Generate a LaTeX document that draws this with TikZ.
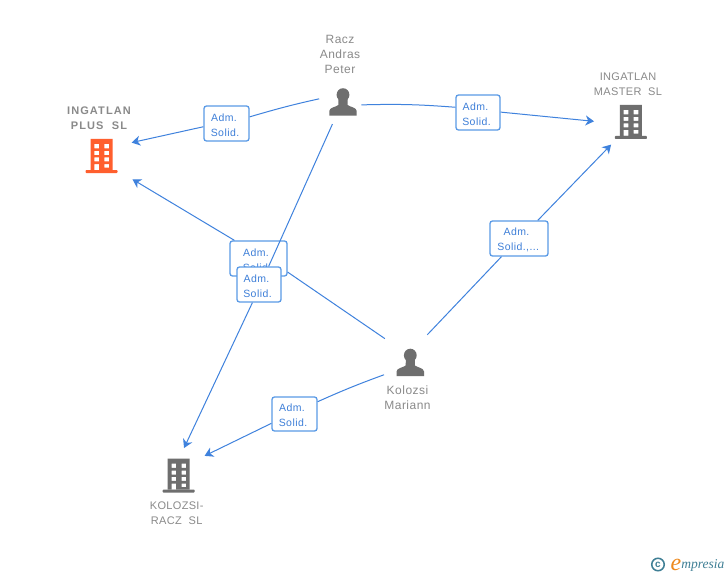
\documentclass[tikz,border=0pt]{standalone}
\usepackage{fontspec}
\setmainfont{Liberation Sans}
\newfontfamily\graylblfont[LetterSpace=4]{Liberation Sans}
\newfontfamily\capslblfont[LetterSpace=3]{Liberation Sans}
\newfontfamily\boldlblfont[LetterSpace=10]{Liberation Sans Bold}
\newfontfamily\boxlblfont[LetterSpace=4]{Liberation Sans}
\newfontfamily\logofont{Liberation Serif Italic}
\usetikzlibrary{arrows.meta}
\definecolor{connblue}{HTML}{3F82DD}
\definecolor{boxblue}{HTML}{5A9AE6}
\definecolor{boxtext}{HTML}{3E7FD8}
\definecolor{lblgray}{HTML}{8A8A8A}
\definecolor{icongray}{HTML}{6E6E6E}
\definecolor{iconorange}{HTML}{FF5F2E}
\definecolor{logoteal}{HTML}{3F7F95}
\definecolor{logoorange}{HTML}{EE8A1E}
\tikzset{
  anchorcircle/.style={circle,inner sep=0pt,outer sep=0pt,minimum size=#1},
  conn/.style={draw=connblue,line width=1pt},
  arrowconn/.style={conn,-{Stealth[length=8.5pt,width=10pt,inset=2.6pt]}},
  relbox/.style={draw=boxblue,line width=1.3pt,fill=white,rounded corners=2.5pt,inner sep=0pt,
    text=boxtext,align=center,font=\boxlblfont\fontsize{10.5}{15}\selectfont},
  graylbl/.style={text=lblgray,align=center,inner sep=0pt,font=\graylblfont\fontsize{12}{15}\selectfont},
  capslbl/.style={text=lblgray,align=center,inner sep=0pt,font=\capslblfont\fontsize{11}{15}\selectfont},
  boldlbl/.style={text=lblgray,align=center,inner sep=0pt,font=\boldlblfont\fontsize{11}{15}\selectfont},
}
\newcommand{\reltext}[3]{\rule{0pt}{11pt}#1\kern5pt\\#2\kern#3}
\newcommand{\buildingicon}[2]{%
  \begin{scope}[shift={(#1)}]
    \fill[#2,even odd rule]
      (-11,-17) rectangle (11,14)
      (-7.2,-12) rectangle (-2.5,-7.7) (2.8,-12) rectangle (7.5,-7.7)
      (-7.2,-5) rectangle (-2.5,-1) (2.8,-5) rectangle (7.5,-1)
      (-7.2,1.3) rectangle (-2.5,5.3) (2.8,1.3) rectangle (7.5,5.3)
      (-7.2,8) rectangle (-2.5,14) (2.8,8) rectangle (7.5,11.7);
    \fill[#2,rounded corners=0.8pt] (-16,14) rectangle (16,17);
  \end{scope}}
\newcommand{\personicon}[1]{%
  \begin{scope}[shift={(#1)}]
    \fill[icongray] (0,-7.2) ellipse [x radius=6.4, y radius=6.6];
    \fill[icongray] (-13.7,13.7) -- (-13.7,9)
      .. controls (-13.7,5.5) and (-7,5) .. (-4.6,3)
      -- (-4.5,-3) -- (4.5,-3) -- (4.6,3)
      .. controls (7,5) and (13.7,5.5) .. (13.7,9)
      -- (13.7,13.7) -- cycle;
  \end{scope}}
\begin{document}
\begin{tikzpicture}[x=1pt,y=-1pt]
\useasboundingbox (0,0) rectangle (728,575);
\fill[white] (0,0) rectangle (728,575);

% anchor areas of the icons
\node[anchorcircle=37pt] (racz) at (343,102) {};
\node[anchorcircle=58pt] (mariann) at (410.3,362.5) {};
\node[anchorcircle=66pt] (plus) at (101.5,156) {};
\node[anchorcircle=60pt] (master) at (630.8,122) {};
\node[anchorcircle=56pt] (kracz) at (178.7,475.5) {};

% icons
\buildingicon{plus}{iconorange}
\buildingicon{master}{icongray}
\buildingicon{kracz}{icongray}
\personicon{racz}
\personicon{mariann}

% texts
\node[graylbl] (lblracz) at (340,54.2) {Racz\\Andras\\Peter};
\node[graylbl] (lblmariann) at (407.5,397.7) {Kolozsi\\Mariann};
\node[boldlbl] (lblplus) at (99,118.6) {INGATLAN\\PLUS\ \ SL};
\node[capslbl] (lblmaster) at (628,84.3) {INGATLAN\\MASTER\ \ SL};
\node[capslbl] (lblkracz) at (176.7,513) {KOLOZSI-\\RACZ\ \ SL};

% relation boxes and connectors
\node[relbox,minimum width=45pt,minimum height=35pt] (boxplus) at (226.5,123.5) {\reltext{Adm.}{Solid.}{3pt}};
\node[relbox,minimum width=44pt,minimum height=35pt] (boxmaster) at (478,112.5) {\reltext{Adm.}{Solid.}{3pt}};
\node[relbox,minimum width=58pt,minimum height=35pt] (boxmasterb) at (519,238.5) {\reltext{Adm.}{Solid.,...}{1.5pt}};
\node[relbox,minimum width=45pt,minimum height=34pt] (boxkracz) at (294.5,414) {\reltext{Adm.}{Solid.}{3pt}};
\node[relbox,minimum width=57pt,minimum height=35pt] (boxmid) at (258.5,258.5) {\reltext{Adm.}{Solid.}{3pt}};

\draw[conn,shorten <=6pt] (racz.166) to[bend right=2] (boxplus.16.8);
\draw[arrowconn] (boxplus.188.8) -- (plus.24.7);
\draw[conn] (racz.-9.5) to[bend left=3] (boxmaster.167.2);
\draw[arrowconn,shorten >=6.8pt] (boxmaster.1.3) -- (master.180);
\draw[conn,shorten <=3.7pt] (mariann.60.7) -- (boxmasterb.226.3);
\draw[arrowconn] (boxmasterb.44.7) -- (master.229);
\draw[conn,shorten <=6pt] (mariann.135.6) -- (boxmid.-25.3);
\draw[arrowconn,shorten >=5.8pt] (boxmid.143.3) -- (plus.-38);
\draw[conn] (mariann.205.7) to[bend right=2] (boxkracz.28);
\draw[arrowconn,shorten >=4.6pt] (boxkracz.202.5) -- (kracz.39);

\node[relbox,minimum width=44pt,minimum height=35pt] (boxlow) at (259,284.5) {\reltext{Adm.}{Solid.}{3pt}};
\draw[conn,shorten <=6pt] (racz.-116) -- (boxlow.62);
\draw[arrowconn] (boxlow.250.2) -- (kracz.79);

% logo
\node[circle,draw=logoteal,line width=1.5pt,minimum size=12.5pt,inner sep=0pt,text=logoteal,
  font=\bfseries\fontsize{10}{10}\selectfont] (logoc) at (658,564.5) {c};
\node[inner sep=0pt,anchor=base west,text=logoteal,font=\logofont\fontsize{13.5}{14}\selectfont] (logow) at (670.5,570)
  {\textcolor{logoorange}{\fontsize{24}{24}\selectfont e}\raisebox{1.5pt}{mpresia}};
\end{tikzpicture}
\end{document}
